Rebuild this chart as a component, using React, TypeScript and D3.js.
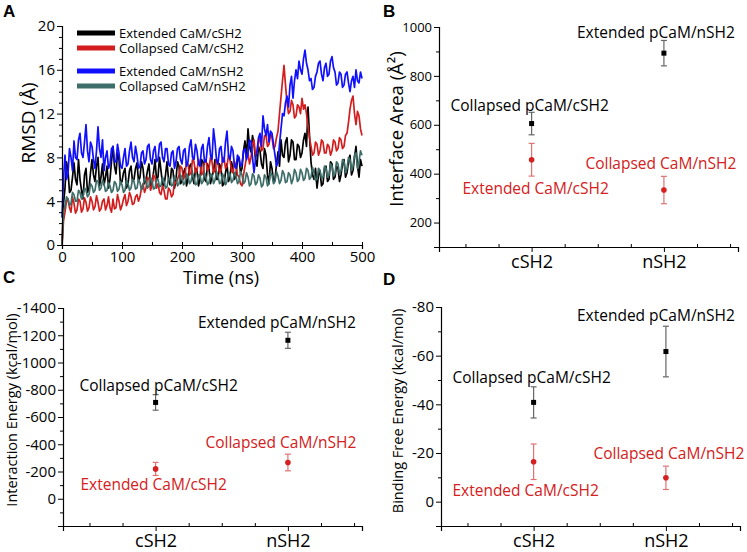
import React, { useEffect, useRef } from 'react';
import * as d3 from 'd3';

// ---- panel A: RMSD time series, read every 2.5 ns ----
const timeNs = d3.range(0, 500.1, 2.5);

const extendedCsh2 = [
  0, 3.8, 5.2, 7.6, 6.8, 4.8, 5.0, 6.2, 7.5, 6.0, 5.5, 7.8, 6.0, 5.0, 4.2, 6.4, 7.0, 4.8, 5.2, 6.6,
  7.8, 6.4, 5.8, 7.2, 8.0, 5.4, 6.2, 7.4, 5.5, 6.2, 7.2, 5.2, 6.0, 7.6, 9.0, 7.2, 6.5, 8.4, 7.8, 5.6,
  5.8, 6.6, 7.0, 5.2, 5.6, 6.8, 7.2, 5.8, 6.0, 7.0, 7.5, 5.8, 6.2, 7.6, 7.0, 5.6, 6.0, 6.8, 7.4, 5.4,
  5.6, 6.6, 7.8, 6.0, 6.2, 8.0, 6.8, 5.6, 5.4, 6.4, 7.6, 6.0, 5.5, 7.0, 6.8, 5.2, 6.0, 7.6, 7.2, 5.6,
  5.8, 6.6, 7.0, 5.4, 6.0, 7.2, 7.4, 6.2, 5.6, 7.0, 6.8, 5.4, 6.0, 7.8, 7.6, 6.0, 5.8, 7.4, 7.0, 5.6,
  6.2, 6.8, 7.8, 6.0, 6.0, 7.4, 7.0, 5.4, 5.6, 6.6, 7.4, 5.8, 6.2, 7.6, 7.0, 6.0, 6.4, 7.8, 8.0, 6.6,
  7.0, 8.6, 9.5, 8.0, 10.6, 9.0, 8.5, 10.0, 9.2, 7.8, 7.2, 9.0, 8.6, 7.4, 7.0, 8.8, 8.2, 6.4, 5.6, 7.6,
  7.0, 5.8, 6.0, 7.4, 8.5, 7.2, 9.6, 8.2, 8.0, 9.4, 9.8, 7.6, 8.2, 9.6, 9.4, 7.8, 7.8, 9.2, 9.0, 8.0,
  8.4, 9.6, 10.2, 9.0, 12.6, 10.0, 7.6, 6.4, 6.0, 7.0, 5.2, 6.4, 6.8, 5.4, 5.6, 7.0, 7.2, 5.8, 6.0, 7.6,
  7.4, 6.0, 6.2, 7.2, 7.0, 5.8, 6.4, 7.4, 7.8, 6.2, 6.6, 7.6, 8.2, 6.4, 6.8, 8.0, 9.0, 7.2, 6.2, 7.8,
  7.2,
];
const collapsedCsh2 = [
  0, 2.2, 3.0, 4.0, 4.2, 3.4, 3.0, 4.4, 3.8, 2.9, 3.2, 4.2, 4.0, 3.0, 3.3, 4.3, 3.9, 3.1, 3.4, 4.4,
  4.0, 3.2, 3.5, 4.5, 3.9, 3.1, 3.3, 4.0, 4.2, 3.2, 3.6, 4.4, 3.4, 3.0, 4.2, 3.3, 3.4, 4.6, 4.0, 3.2,
  3.6, 4.2, 4.6, 3.6, 4.0, 4.8, 4.4, 3.7, 3.8, 4.4, 4.6, 4.0, 4.4, 5.2, 5.6, 4.8, 5.2, 6.2, 6.0, 5.0,
  5.4, 6.4, 6.2, 5.2, 5.6, 4.8, 4.6, 5.4, 5.0, 4.2, 4.2, 5.2, 5.0, 4.4, 4.6, 5.8, 5.6, 6.0, 6.4, 7.2,
  7.0, 6.0, 6.4, 7.6, 7.4, 6.4, 6.6, 7.8, 7.6, 6.6, 6.8, 7.8, 7.4, 6.4, 6.6, 7.6, 7.8, 6.8, 7.0, 8.0,
  7.6, 6.6, 6.8, 7.8, 7.4, 6.6, 6.8, 7.8, 8.0, 7.0, 7.2, 8.2, 7.8, 6.8, 6.6, 7.6, 7.2, 6.4, 6.2, 5.6,
  5.4, 6.4, 7.2, 8.0, 8.4, 7.4, 8.0, 9.2, 9.6, 8.2, 8.4, 9.4, 9.8, 8.6, 8.8, 10.0, 10.0, 9.0, 9.2, 10.2,
  9.8, 8.8, 9.0, 9.8, 10.4, 12.0, 13.5, 15.0, 16.4, 14.6, 13.0, 12.0, 12.2, 13.2, 12.8, 11.6, 11.8, 12.8, 12.6, 12.0,
  13.4, 12.4, 12.8, 12.0, 10.8, 9.8, 9.0, 8.2, 8.4, 9.4, 9.2, 8.2, 8.6, 9.6, 9.4, 8.4, 8.4, 9.2, 9.0, 8.2,
  8.6, 9.6, 9.4, 8.6, 8.8, 9.8, 9.6, 8.8, 9.0, 10.0, 10.2, 11.2, 12.4, 13.2, 13.6, 12.0, 11.0, 12.2, 11.8, 10.6,
  10.0,
];
const extendedNsh2 = [
  2.5, 6.0, 8.2, 6.0, 6.5, 8.8, 8.0, 6.8, 9.5, 8.0, 7.8, 9.6, 10.2, 8.4, 8.0, 9.4, 11.0, 8.6, 7.6, 9.4,
  9.0, 7.8, 7.0, 8.6, 10.8, 8.8, 8.0, 9.6, 6.8, 8.0, 8.6, 7.0, 7.4, 8.8, 9.0, 7.6, 7.6, 9.2, 8.4, 7.2,
  7.0, 8.0, 8.8, 7.2, 7.4, 8.6, 9.4, 8.0, 7.6, 9.0, 8.2, 7.0, 7.2, 8.4, 8.6, 7.4, 7.8, 9.0, 9.2, 7.8,
  7.4, 8.6, 9.0, 7.6, 7.8, 9.2, 9.4, 8.0, 7.6, 8.8, 8.8, 7.4, 7.2, 8.4, 8.6, 7.0, 7.6, 8.8, 9.0, 7.8,
  7.4, 8.6, 8.8, 7.2, 7.6, 9.0, 9.6, 8.0, 7.8, 9.2, 8.6, 7.4, 7.2, 8.8, 9.2, 7.6, 7.6, 9.0, 9.8, 8.2,
  7.8, 10.6, 9.4, 7.8, 7.4, 8.8, 9.0, 7.6, 7.6, 9.4, 10.4, 8.2, 7.8, 9.0, 8.6, 7.2, 7.0, 8.2, 8.0, 7.2,
  7.4, 8.6, 8.8, 7.8, 8.4, 9.6, 9.4, 8.0, 6.6, 7.8, 8.6, 9.8, 10.2, 9.0, 11.8, 10.6, 10.0, 11.0, 9.4, 10.4,
  10.2, 9.2, 8.2, 7.2, 7.6, 9.2, 10.6, 12.0, 11.8, 13.0, 13.6, 12.6, 14.6, 15.4, 13.4, 15.0, 16.0, 15.2, 16.8, 16.0,
  15.6, 17.0, 17.8, 16.6, 16.0, 15.0, 15.2, 14.2, 14.4, 15.4, 15.8, 16.6, 16.8, 15.6, 15.0, 16.2, 16.6, 15.4, 15.6, 16.8,
  17.2, 16.2, 15.8, 14.6, 14.8, 15.8, 15.6, 14.4, 14.6, 15.6, 15.8, 14.8, 14.0, 15.0, 15.4, 14.4, 16.0, 15.0, 14.8, 15.8,
  15.2,
];
const collapsedNsh2 = [
  0, 3.0, 3.6, 4.4, 4.2, 3.6, 3.8, 4.8, 4.6, 4.0, 4.0, 5.0, 4.8, 4.2, 4.4, 5.2, 5.0, 4.4, 4.6, 5.6,
  5.4, 4.8, 5.0, 5.9, 5.8, 5.0, 5.2, 5.9, 5.6, 4.9, 5.0, 5.7, 5.4, 4.8, 5.0, 5.8, 5.6, 4.9, 5.1, 5.8,
  5.5, 4.8, 5.0, 5.9, 5.6, 5.0, 5.2, 6.0, 5.8, 5.1, 5.2, 6.0, 5.7, 5.0, 5.3, 6.1, 5.9, 5.2, 5.4, 6.2,
  5.8, 5.1, 5.2, 6.0, 6.0, 5.3, 5.4, 6.2, 5.8, 5.2, 5.3, 6.1, 6.0, 5.4, 5.5, 6.3, 6.1, 5.4, 5.6, 6.4,
  6.2, 5.5, 5.7, 6.5, 6.3, 5.6, 5.8, 6.6, 6.1, 5.5, 5.6, 6.4, 6.4, 5.6, 5.8, 6.6, 6.2, 5.5, 5.7, 6.5,
  6.4, 5.6, 5.9, 6.7, 6.3, 5.6, 5.7, 6.5, 6.2, 5.5, 5.8, 6.6, 6.5, 5.7, 5.9, 6.6, 6.3, 5.6, 5.8, 6.7,
  6.4, 5.6, 5.8, 6.6, 6.2, 5.4, 5.6, 6.5, 6.3, 5.5, 5.7, 6.4, 6.1, 5.3, 5.5, 6.4, 6.2, 5.4, 5.6, 6.6,
  6.4, 5.6, 5.8, 6.7, 6.3, 5.6, 5.9, 6.8, 6.5, 5.7, 5.8, 6.6, 6.4, 5.6, 6.0, 6.9, 6.6, 5.8, 6.0, 6.9,
  6.6, 5.9, 6.1, 7.0, 6.8, 6.0, 6.2, 7.1, 6.6, 5.9, 6.0, 7.0, 6.8, 6.1, 6.2, 7.2, 7.0, 6.2, 6.4, 7.4,
  7.2, 6.3, 6.5, 7.6, 7.4, 6.5, 6.8, 7.8, 7.6, 6.6, 7.0, 8.0, 7.8, 6.8, 7.2, 8.2, 8.4, 7.0, 7.6, 8.6,
  8.2,
];

const seriesNames = ['Extended CaM/cSH2', 'Collapsed CaM/cSH2', 'Extended CaM/nSH2', 'Collapsed CaM/nSH2'];
const seriesColors = ['#000000', '#d21e1e', '#1010ff', '#3e6e69'];

// ---- panels B, C, D: two categories, black (pCaM) and red (CaM) points ----
const categories = ['cSH2', 'nSH2'];
const blackLabels = ['Collapsed pCaM/cSH2', 'Extended pCaM/nSH2'];
const redLabels = ['Extended CaM/cSH2', 'Collapsed CaM/nSH2'];

const areaBlack = [605, 893];
const areaBlackErr = [46, 52];
const areaRed = [457, 333];
const areaRedErr = [67, 56];

const energyBlack = [-707, -1163];
const energyBlackErr = [57, 59];
const energyRed = [-219, -266];
const energyRedErr = [48, 61];

const bindBlack = [-40.8, -61.7];
const bindBlackErr = [6.4, 10.4];
const bindRed = [-16.4, -9.8];
const bindRedErr = [7.3, 4.8];

const FONT = '"Open Sans", "Noto Sans", sans-serif';
const RED = '#d42020';

function styleAxis(g: any, size: number) {
  g.attr('font-family', FONT).attr('font-size', size);
  g.select('.domain').attr('stroke', '#000').attr('stroke-width', 1.2);
  g.selectAll('.tick line').attr('stroke', '#000');
  g.selectAll('.tick text').attr('fill', '#000');
}

function minorAxis(g: any) {
  g.select('.domain').remove();
  g.selectAll('.tick text').remove();
  g.selectAll('.tick line').attr('stroke', '#000');
}

function drawPanelA(svg: any) {
  const box = { left: 62, right: 362, top: 26, bottom: 245 };
  const x = d3.scaleLinear().domain([0, 500]).range([box.left, box.right]);
  const y = d3.scaleLinear().domain([0, 20]).range([box.bottom, box.top]);

  const all = [extendedCsh2, collapsedCsh2, extendedNsh2, collapsedNsh2];
  const line = d3
    .line<number>()
    .x((d, i) => x(timeNs[i]))
    .y((d) => y(d));

  all.forEach((vals, k) => {
    svg
      .append('path')
      .datum(vals)
      .attr('d', line)
      .attr('fill', 'none')
      .attr('stroke', seriesColors[k])
      .attr('stroke-width', 1.7)
      .attr('stroke-linejoin', 'round');
  });

  // y axis
  const ya = svg.append('g').attr('transform', `translate(${box.left},0)`)
    .call(d3.axisLeft(y).tickValues([0, 4, 8, 12, 16, 20]).tickSize(5).tickPadding(2));
  styleAxis(ya, 15);
  const ym = svg.append('g').attr('transform', `translate(${box.left},0)`)
    .call(d3.axisLeft(y).tickValues(d3.range(0, 21).filter((v) => v % 4 !== 0)).tickSize(3));
  minorAxis(ym);

  // x axis
  const xa = svg.append('g').attr('transform', `translate(0,${box.bottom})`)
    .call(d3.axisBottom(x).tickValues([0, 100, 200, 300, 400, 500]).tickSize(4).tickPadding(2));
  styleAxis(xa, 15);
  const xm = svg.append('g').attr('transform', `translate(0,${box.bottom})`)
    .call(d3.axisTop(x).tickValues(d3.range(50, 501, 50)).tickSize(3));
  minorAxis(xm);

  svg.append('text')
    .attr('transform', `translate(28,123) rotate(-90)`)
    .attr('text-anchor', 'middle')
    .attr('dominant-baseline', 'central')
    .attr('font-family', FONT)
    .attr('font-size', 19)
    .text('RMSD (Å)');
  svg.append('text')
    .attr('x', 221)
    .attr('y', 277)
    .attr('text-anchor', 'middle')
    .attr('dominant-baseline', 'central')
    .attr('font-family', FONT)
    .attr('font-size', 18)
    .text('Time (ns)');

  // legend
  const rows = [33, 48, 71, 86];
  seriesNames.forEach((name, k) => {
    svg.append('line')
      .attr('x1', 77).attr('x2', 115)
      .attr('y1', rows[k]).attr('y2', rows[k])
      .attr('stroke', seriesColors[k])
      .attr('stroke-width', 5);
    svg.append('text')
      .attr('x', 119)
      .attr('y', rows[k])
      .attr('dominant-baseline', 'central')
      .attr('font-family', FONT)
      .attr('font-size', 13)
      .text(name);
  });
}

function drawDotPanel(svg: any, cfg: any) {
  const x = d3.scaleLinear().domain([0.3, 2.56]).range([cfg.left, cfg.right]);
  const y = d3.scaleLinear().domain(cfg.yDomain).range([cfg.bottom, cfg.top]);

  const ya = svg.append('g').attr('transform', `translate(${cfg.left},0)`)
    .call(d3.axisLeft(y).tickValues(cfg.yTicks).tickSize(5).tickPadding(2).tickFormat((d: any) => String(d)));
  styleAxis(ya, cfg.tickFont);
  const ym = svg.append('g').attr('transform', `translate(${cfg.left},0)`)
    .call(d3.axisLeft(y).tickValues(cfg.yMinor).tickSize(3));
  minorAxis(ym);

  const xa = svg.append('g').attr('transform', `translate(0,${cfg.bottom})`)
    .call(d3.axisBottom(x).tickValues([1, 2]).tickSize(5).tickPadding(3).tickFormat((d: any, i: number) => categories[i]));
  styleAxis(xa, 18);
  const xm = svg.append('g').attr('transform', `translate(0,${cfg.bottom})`)
    .call(d3.axisTop(x).tickValues([0.5, 0.75, 1.25, 1.5, 1.75, 2.25, 2.5]).tickSize(3));
  minorAxis(xm);

  const groups = [
    { vals: cfg.black, errs: cfg.blackErr, labels: blackLabels, color: '#000', errColor: '#666', shape: 'square', off: cfg.blackOff },
    { vals: cfg.red, errs: cfg.redErr, labels: redLabels, color: RED, errColor: '#e07272', shape: 'circle', off: cfg.redOff },
  ];

  groups.forEach((gr) => {
    gr.vals.forEach((v: number, i: number) => {
      const cx = x(i + 1);
      const lo = y(v - gr.errs[i]);
      const hi = y(v + gr.errs[i]);
      svg.append('line').attr('x1', cx).attr('x2', cx).attr('y1', lo).attr('y2', hi)
        .attr('stroke', gr.errColor).attr('stroke-width', 1.2);
      [lo, hi].forEach((yy) => {
        svg.append('line').attr('x1', cx - 3).attr('x2', cx + 3).attr('y1', yy).attr('y2', yy)
          .attr('stroke', gr.errColor).attr('stroke-width', 1.2);
      });
      if (gr.shape === 'square') {
        svg.append('rect').attr('x', cx - 2.5).attr('y', y(v) - 2.5).attr('width', 5).attr('height', 5).attr('fill', gr.color);
      } else {
        svg.append('circle').attr('cx', cx).attr('cy', y(v)).attr('r', 2.8).attr('fill', gr.color);
      }
      svg.append('text')
        .attr('x', cx + gr.off[i][0])
        .attr('y', y(v) + gr.off[i][1])
        .attr('text-anchor', 'middle')
        .attr('dominant-baseline', 'central')
        .attr('font-family', FONT)
        .attr('font-size', 15.5)
        .attr('fill', gr.color)
        .text(gr.labels[i]);
    });
  });

  svg.append('text')
    .attr('transform', `translate(${cfg.titleX},${cfg.titleY}) rotate(-90)`)
    .attr('text-anchor', 'middle')
    .attr('dominant-baseline', 'central')
    .attr('font-family', FONT)
    .attr('font-size', cfg.titleFont)
    .text(cfg.title);
}

export default function App() {
  const ref = useRef<SVGSVGElement>(null);

  useEffect(() => {
    const svg = d3.select(ref.current);
    svg.selectAll('*').remove();

    drawPanelA(svg);

    drawDotPanel(svg, {
      left: 439, right: 738, top: 27, bottom: 247,
      yDomain: [100, 1000], yTicks: [200, 400, 600, 800, 1000], yMinor: [100, 300, 500, 700, 900],
      tickFont: 13,
      black: areaBlack, blackErr: areaBlackErr, red: areaRed, redErr: areaRedErr,
      blackOff: [[-2, -19], [-8, -21]], redOff: [[4, 28], [-3, -27]],
      title: 'Interface Area (Å²)', titleX: 395, titleY: 129, titleFont: 18.5,
    });

    drawDotPanel(svg, {
      left: 63, right: 362, top: 308, bottom: 526,
      yDomain: [200, -1400], yTicks: [0, -200, -400, -600, -800, -1000, -1200, -1400],
      yMinor: [100, -100, -300, -500, -700, -900, -1100, -1300],
      tickFont: 15,
      black: energyBlack, blackErr: energyBlackErr, red: energyRed, redErr: energyRedErr,
      blackOff: [[3, -17], [-11, -18]], redOff: [[-2, 15], [-7, -21]],
      title: 'Interaction Energy (kcal/mol)', titleX: 11, titleY: 410, titleFont: 14.5,
    });

    drawDotPanel(svg, {
      left: 441, right: 740, top: 307, bottom: 526,
      yDomain: [10, -80], yTicks: [0, -20, -40, -60, -80], yMinor: [10, -10, -30, -50, -70],
      tickFont: 15,
      black: bindBlack, blackErr: bindBlackErr, red: bindRed, redErr: bindRedErr,
      blackOff: [[-2, -25], [-10, -37]], redOff: [[-8, 28], [3, -25]],
      title: 'Binding Free Energy (kcal/mol)', titleX: 397, titleY: 411, titleFont: 14.5,
    });

    // panel letters
    const letters: [string, number, number][] = [['A', 3, 17], ['B', 383, 17], ['C', 3, 283], ['D', 383, 285]];
    letters.forEach(([t, lx, ly]) => {
      svg.append('text').attr('x', lx).attr('y', ly)
        .attr('font-family', '"Liberation Sans", Arial, sans-serif')
        .attr('font-weight', 'bold').attr('font-size', 17).text(t);
    });
  }, []);

  return (
    <div>
      <svg ref={ref} width={747} height={552} style={{ position: 'absolute', left: 0, top: 0, background: '#fff' }} />
    </div>
  );
}
